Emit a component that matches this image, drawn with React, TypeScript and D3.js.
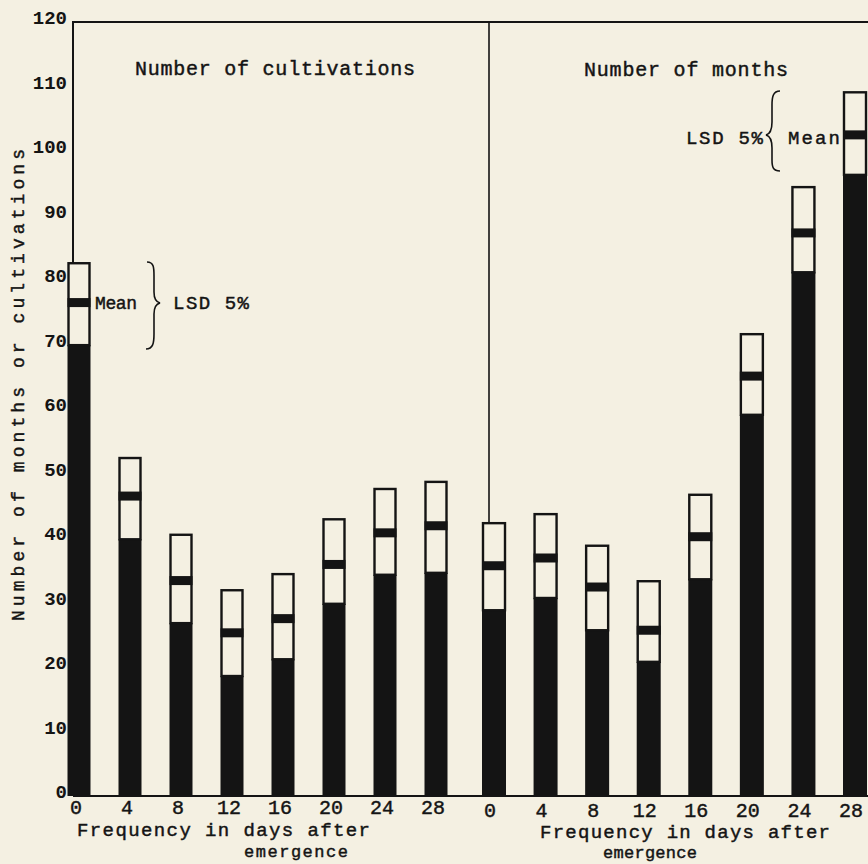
import React from "react";
import * as d3 from "d3";

// ---- data ----
const freqs = [0, 4, 8, 12, 16, 20, 24, 28];
const freqLabels = ["0", "4", "8", "12", "16", "20", "24", "28"];

// Number of cultivations: mean and LSD 5% interval bounds
const cultMean = [76.5, 46.5, 33.4, 25.3, 27.5, 35.9, 40.8, 41.9];
const cultLower = [69.9, 39.8, 26.8, 18.6, 21.2, 29.8, 34.3, 34.6];
const cultUpper = [82.6, 52.4, 40.5, 31.9, 34.4, 42.9, 47.6, 48.7];

// Number of months
const monthMean = [35.7, 36.9, 32.4, 25.7, 40.2, 65.1, 87.3, 102.5];
const monthLower = [28.8, 30.7, 25.7, 20.8, 33.6, 59.1, 81.2, 96.3];
const monthUpper = [42.3, 43.7, 38.8, 33.3, 46.7, 71.6, 94.4, 109.1];

const yTicks = [0, 10, 20, 30, 40, 50, 60, 70, 80, 90, 100, 110, 120];

const panelTitles = ["Number of cultivations", "Number of months"];
const xTitle1 = "Frequency in days after";
const xTitle2 = "emergence";
const yTitle = "Number of months or cultivations";

const W = 868;
const H = 864;
const INK = "#141414";
const PAPER = "#f4f0e2";
const FONT = "'Liberation Mono', 'DejaVu Sans Mono', monospace";

export default function App() {
  const y = d3.scaleLinear().domain([0, 120]).range([796, 22]);
  const xLeft = d3.scaleLinear().domain([0, 28]).range([79, 436]);
  const xRight = d3.scaleLinear().domain([0, 28]).range([494, 855]);

  const panels = [
    { x: xLeft, mean: cultMean, lo: cultLower, hi: cultUpper, bw: 23, labelDx: -3 },
    { x: xRight, mean: monthMean, lo: monthLower, hi: monthUpper, bw: 24, labelDx: -4 },
  ];

  const bandH = 9;
  const txt = { fill: INK, stroke: INK, strokeWidth: 0.45 };

  return (
    <svg
      width={W}
      height={H}
      viewBox={`0 0 ${W} ${H}`}
      style={{ position: "absolute", left: 0, top: 0, display: "block" }}
      fontFamily={FONT}
    >
      <rect x={0} y={0} width={W} height={H} fill={PAPER} />

      {/* frame */}
      <line x1={73} x2={W} y1={y(120)} y2={y(120)} stroke={INK} strokeWidth={2} />
      <line x1={73} x2={73} y1={y(120) - 1} y2={y(0)} stroke={INK} strokeWidth={2} />
      <line x1={73} x2={W} y1={y(0)} y2={y(0)} stroke={INK} strokeWidth={2} />
      <line x1={489} x2={489} y1={y(120)} y2={y(0)} stroke={INK} strokeWidth={1.6} />

      {/* y tick labels */}
      {yTicks.map((t) => (
        <text
          key={t}
          x={67}
          y={y(t) + 2}
          textAnchor="end"
          fontSize={19}
          fontWeight="bold"
          fill={INK}
        >
          {t}
        </text>
      ))}

      {/* y title */}
      <text
        transform={`translate(24, 621) rotate(-90)`}
        fontSize={18}
        {...txt}
        textLength={472}
        lengthAdjust="spacing"
      >
        {yTitle}
      </text>

      {/* bars */}
      {panels.map((p, pi) => (
        <g key={pi}>
          {freqs.map((f, i) => {
            const cx = p.x(f);
            const x0 = cx - p.bw / 2;
            return (
              <g key={f}>
                <rect x={x0} y={y(p.lo[i])} width={p.bw} height={y(0) - y(p.lo[i])} fill={INK} />
                <rect
                  x={x0 + 1}
                  y={y(p.hi[i])}
                  width={p.bw - 2}
                  height={y(p.lo[i]) - y(p.hi[i])}
                  fill={PAPER}
                  stroke={INK}
                  strokeWidth={2.4}
                />
                <rect x={x0} y={y(p.mean[i]) - bandH / 2} width={p.bw} height={bandH} fill={INK} />
              </g>
            );
          })}
          {freqs.map((f, i) => (
            <text
              key={"l" + f}
              x={p.x(f) + p.labelDx}
              y={pi === 0 ? 814 : 817}
              textAnchor="middle"
              fontSize={20}
              {...txt}
            >
              {freqLabels[i]}
            </text>
          ))}
        </g>
      ))}

      {/* panel titles */}
      <text x={135} y={75} fontSize={20} {...txt} textLength={280} lengthAdjust="spacing">
        {panelTitles[0]}
      </text>
      <text x={584} y={76} fontSize={20} {...txt} textLength={204} lengthAdjust="spacing">
        {panelTitles[1]}
      </text>

      {/* x titles */}
      <text x={77} y={836} fontSize={19} {...txt} textLength={293} lengthAdjust="spacing">
        {xTitle1}
      </text>
      <text x={244} y={857} fontSize={17} {...txt} textLength={104} lengthAdjust="spacing">
        {xTitle2}
      </text>
      <text x={540} y={838} fontSize={19} {...txt} textLength={290} lengthAdjust="spacing">
        {xTitle1}
      </text>
      <text x={603} y={858} fontSize={17} {...txt} textLength={94} lengthAdjust="spacing">
        {xTitle2}
      </text>

      {/* left legend annotation */}
      <text x={95} y={309} fontSize={18} {...txt} textLength={42} lengthAdjust="spacing">
        Mean
      </text>
      <path
        d="M147,262 C154,262 154,268 154,276 L154,292 C154,299 156,302 160,303 C156,304 154,307 154,314 L154,334 C154,343 153,349 146,349"
        fill="none"
        stroke={INK}
        strokeWidth={1.6}
      />
      <text x={173} y={309} fontSize={19} {...txt} textLength={76} lengthAdjust="spacing">
        LSD 5%
      </text>

      {/* right legend annotation */}
      <text x={686} y={144} fontSize={19} {...txt} textLength={77} lengthAdjust="spacing">
        LSD 5%
      </text>
      <path
        d="M780,91 C773,91 772,97 772,105 L772,122 C772,130 770,134 766,135 C770,136 772,140 772,148 L772,160 C772,167 773,171 780,171"
        fill="none"
        stroke={INK}
        strokeWidth={1.6}
      />
      <text x={788} y={144} fontSize={19} {...txt} textLength={52} lengthAdjust="spacing">
        Mean
      </text>
    </svg>
  );
}
